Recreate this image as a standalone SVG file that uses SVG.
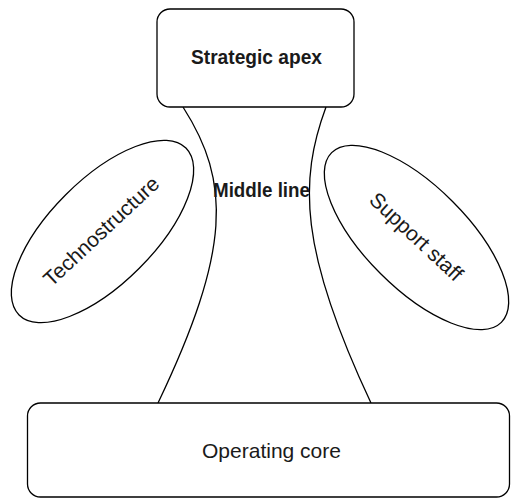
<svg xmlns="http://www.w3.org/2000/svg" width="511" height="499" viewBox="0 0 511 499">
<style>
.box{fill:#ffffff;stroke:#000000;stroke-width:1.3}
.line{fill:none;stroke:#000000;stroke-width:1.3}
.lb{font-family:"Liberation Sans",Arial,sans-serif;font-size:21px;font-weight:bold;fill:#1a1a1a;text-anchor:middle}
.lr{font-family:"Liberation Sans",Arial,sans-serif;font-size:21px;fill:#1a1a1a;text-anchor:middle}
</style>
<rect width="511" height="499" fill="#ffffff"/>
<g id="connectors">
<path class="line" d="M183,107 C231,182 231,250 158,403"/>
<path class="line" d="M326,107 C299,180 299,250 371,403"/>
</g>
<g id="strategic-apex">
<rect class="box" x="157" y="9" width="197" height="98" rx="13" ry="13"/>
<text class="lb" x="256.5" y="63.5" textLength="131" lengthAdjust="spacingAndGlyphs">Strategic apex</text>
</g>
<g id="middle-line">
<text class="lb" x="261.5" y="197" textLength="97" lengthAdjust="spacingAndGlyphs">Middle line</text>
</g>
<g id="technostructure">
<ellipse class="box" cx="102.5" cy="231.5" rx="118" ry="52" transform="rotate(-45 102.5 231.5)"/>
<text class="lr" transform="translate(101 231) rotate(-43)" x="0" y="7.5">Technostructure</text>
</g>
<g id="support-staff">
<ellipse class="box" cx="416.5" cy="237.5" rx="120" ry="51" transform="rotate(45 416.5 237.5)"/>
<text class="lr" transform="translate(416.5 236.5) rotate(43)" x="0" y="7.5">Support staff</text>
</g>
<g id="operating-core">
<rect class="box" x="27.5" y="403" width="482" height="94" rx="13" ry="13"/>
<text class="lr" x="271.5" y="458">Operating core</text>
</g>
</svg>
